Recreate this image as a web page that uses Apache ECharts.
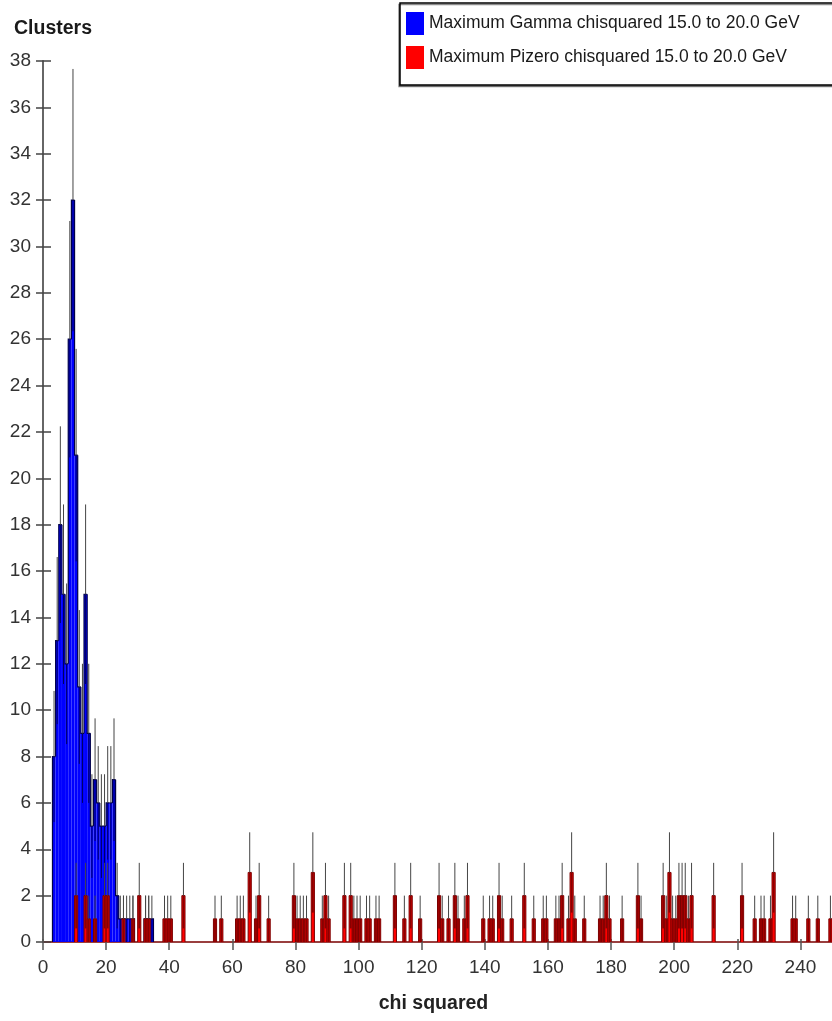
<!DOCTYPE html>
<html>
<head>
<meta charset="utf-8">
<script src="https://cdn.jsdelivr.net/npm/echarts@6/dist/echarts.min.js"></script>
<style>
  html, body { margin: 0; padding: 0; background: #fff; }
  #chart { width: 832px; height: 1021px; }
</style>
</head>
<body>
<div id="chart"></div>
<script>
// Histogram bins are 1 unit wide; each entry is the lower edge of a non-empty bin.
const gammaBins   = [3, 4, 5, 6, 7, 8, 9, 10, 11, 12, 13, 14, 15, 16, 17, 18, 19, 20, 21, 22, 23, 24, 25, 26, 27, 28, 32, 33, 34];
const gammaCounts = [8, 13, 18, 15, 12, 26, 32, 21, 11, 9, 15, 9, 5, 7, 6, 5, 5, 6, 6, 7, 2, 1, 1, 1, 1, 1, 1, 1, 1];

const pizeroBins = [10, 13, 14, 16, 19, 20, 25, 28, 30, 32, 33, 38, 39, 40, 44, 54, 56, 61, 62, 63, 65, 67, 68, 71,
  79, 80, 81, 82, 83, 85, 88, 89, 90, 95, 97, 98, 99, 100, 102, 103, 105, 106, 111, 114, 116, 119,
  125, 126, 128, 130, 131, 133, 134, 139, 141, 142, 144, 145, 148, 152, 155, 158, 159, 162, 163, 164, 166, 167, 168, 171,
  176, 177, 178, 179, 183, 188, 189, 196, 197, 198, 199, 200, 201, 202, 203, 204, 205, 212, 221, 225, 227, 228, 230, 231,
  237, 238, 242, 245, 249];
const pizeroCounts = [2, 2, 1, 1, 2, 2, 1, 1, 2, 1, 1, 1, 1, 1, 2, 1, 1, 1, 1, 1, 3, 1, 2, 1,
  2, 1, 1, 1, 1, 3, 1, 2, 1, 2, 2, 1, 1, 1, 1, 1, 1, 1, 2, 1, 2, 1,
  2, 1, 1, 2, 1, 1, 2, 1, 1, 1, 2, 1, 1, 2, 1, 1, 1, 1, 1, 2, 1, 3, 1, 1,
  1, 1, 2, 1, 1, 2, 1, 2, 1, 3, 1, 1, 2, 2, 2, 1, 2, 2, 2, 1, 1, 1, 1, 3,
  1, 1, 1, 1, 1];

const yTicks = { min: 0, max: 38, interval: 2 };
const xTicks = { min: 0, max: 250, interval: 20 };

const FONT = "'Liberation Sans', Arial, sans-serif";
const BIN_WIDTH = 1;

const GAMMA_NAME = 'Maximum Gamma chisquared 15.0 to 20.0 GeV';
const PIZERO_NAME = 'Maximum Pizero chisquared 15.0 to 20.0 GeV';

function pairs(bins, counts) {
  return bins.map((b, i) => [b, counts[i]]);
}

// Filled bin with a step outline, and a sqrt(N) error bar: the part inside the
// bar is drawn in the edge colour, the part above it as a thin grey line.
function histRenderer(bins, counts, look) {
  const lookup = new Map(bins.map((b, i) => [b, counts[i]]));
  return function (params, api) {
    const x0 = api.value(0);
    const n = api.value(1);
    const prev = lookup.get(x0 - BIN_WIDTH) || 0;
    const next = lookup.get(x0 + BIN_WIDTH) || 0;
    const base = api.coord([x0, 0]);
    const top = api.coord([x0 + BIN_WIDTH, n]);
    const yPrev = api.coord([x0, prev])[1];
    const yZero = base[1];
    const outline = look.boxEdges
      ? [[base[0], yZero], [base[0], top[1]], [top[0], top[1]], [top[0], yZero]]
      : [[base[0], yPrev], [base[0], top[1]], [top[0], top[1]]];
    if (!look.boxEdges && !next) outline.push([top[0], yZero]);
    const err = Math.sqrt(n);
    const cx = api.coord([x0 + BIN_WIDTH / 2, 0])[0];
    const yLo = api.coord([0, Math.max(0, n - err)])[1];
    const yHi = api.coord([0, n + err])[1];
    return {
      type: 'group',
      children: [
        {
          type: 'rect',
          shape: { x: base[0], y: top[1], width: top[0] - base[0], height: yZero - top[1] },
          style: { fill: look.fill }
        },
        {
          type: 'polyline',
          shape: { points: outline },
          style: { fill: null, stroke: look.edge, lineWidth: look.edgeWidth }
        },
        {
          type: 'line',
          shape: { x1: cx, y1: yLo, x2: cx, y2: top[1] },
          style: { stroke: look.innerErr, lineWidth: look.innerErrWidth }
        },
        {
          type: 'line',
          shape: { x1: cx, y1: top[1], x2: cx, y2: yHi },
          style: { stroke: '#454545', lineWidth: 1 }
        }
      ]
    };
  };
}

const chart = echarts.init(document.getElementById('chart'), null, { renderer: 'canvas' });

chart.setOption({
  animation: false,
  backgroundColor: '#ffffff',
  grid: { left: 43, top: 61, width: 791, height: 881, containLabel: false },
  legend: {
    orient: 'vertical',
    left: 400,
    top: 3,
    padding: [9, 60, 16, 6],
    itemWidth: 18,
    itemHeight: 23,
    itemGap: 11,
    icon: 'rect',
    backgroundColor: '#ffffff',
    borderColor: '#000000',
    borderWidth: 1.5,
    shadowColor: 'rgba(0,0,0,0.45)',
    shadowOffsetX: -1,
    shadowOffsetY: 1.5,
    textStyle: { fontFamily: FONT, fontSize: 17.5, color: '#1a1a1a' },
    data: [GAMMA_NAME, PIZERO_NAME]
  },
  xAxis: [
    {
      type: 'value',
      min: xTicks.min, max: xTicks.max, interval: xTicks.interval,
      name: 'chi squared',
      nameLocation: 'middle',
      nameGap: 52,
      nameTextStyle: { fontFamily: FONT, fontSize: 19.5, fontWeight: 'bold', color: '#222', padding: [0, 8, 0, 0] },
      axisLine: { lineStyle: { color: '#7a0000', width: 1.5 } },
      axisTick: { length: 8, lineStyle: { color: '#555', width: 1.5 } },
      axisLabel: { fontFamily: FONT, fontSize: 19, color: '#333', margin: 16, showMaxLabel: false },
      splitLine: { show: false }
    },
    {
      type: 'value',
      min: xTicks.min, max: xTicks.max, interval: xTicks.interval,
      position: 'bottom',
      axisLine: { show: false },
      axisTick: { inside: true, length: 3, lineStyle: { color: '#555', width: 1.5 } },
      axisLabel: { show: false },
      splitLine: { show: false }
    }
  ],
  yAxis: [
    {
      type: 'value',
      min: yTicks.min, max: yTicks.max, interval: yTicks.interval,
      name: 'Clusters',
      nameLocation: 'end',
      nameGap: 22,
      nameTextStyle: { fontFamily: FONT, fontSize: 19.5, fontWeight: 'bold', color: '#1a1a1a', align: 'left', padding: [0, 0, 0, -29] },
      axisLine: { show: true, lineStyle: { color: '#666', width: 2 } },
      axisTick: { length: 7, lineStyle: { color: '#444', width: 1.5 } },
      axisLabel: { fontFamily: FONT, fontSize: 19, color: '#333', margin: 12 },
      splitLine: { show: false }
    },
    {
      type: 'value',
      min: yTicks.min, max: yTicks.max, interval: yTicks.interval,
      position: 'left',
      axisLine: { show: false },
      axisTick: { inside: true, length: 8, lineStyle: { color: '#444', width: 1.5 } },
      axisLabel: { show: false },
      splitLine: { show: false }
    }
  ],
  series: [
    {
      name: GAMMA_NAME,
      type: 'custom',
      xAxisIndex: 0, yAxisIndex: 0,
      itemStyle: { color: '#0000ff' },
      renderItem: histRenderer(gammaBins, gammaCounts, {
        fill: '#0000ff', edge: '#00004a', edgeWidth: 1.2, boxEdges: false,
        innerErr: '#000060', innerErrWidth: 1
      }),
      encode: { x: 0, y: 1 },
      data: pairs(gammaBins, gammaCounts),
      z: 2
    },
    {
      name: PIZERO_NAME,
      type: 'custom',
      xAxisIndex: 0, yAxisIndex: 0,
      itemStyle: { color: '#ff0000' },
      renderItem: histRenderer(pizeroBins, pizeroCounts, {
        fill: '#ff0000', edge: '#7a0000', edgeWidth: 1, boxEdges: true,
        innerErr: '#8a0000', innerErrWidth: 1.8
      }),
      encode: { x: 0, y: 1 },
      data: pairs(pizeroBins, pizeroCounts),
      z: 3
    }
  ]
});
</script>
</body>
</html>
